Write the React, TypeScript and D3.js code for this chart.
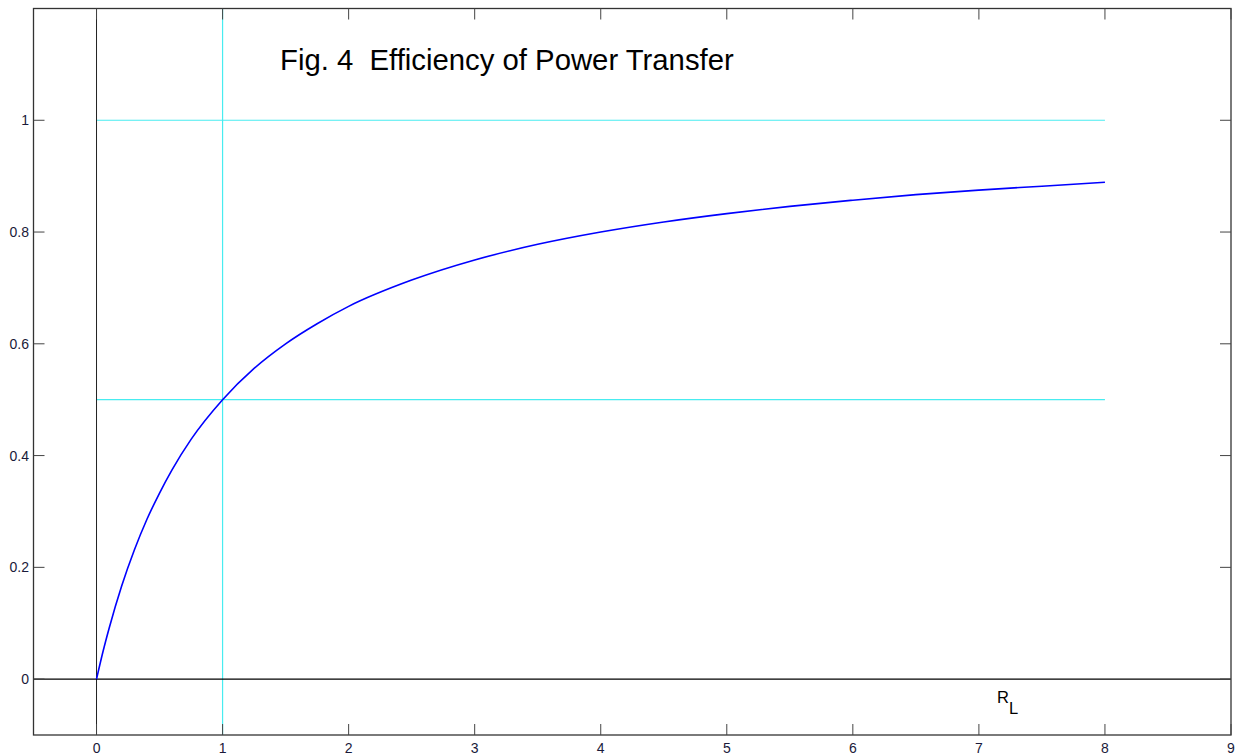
import React, { useEffect, useRef } from "react";
import * as d3 from "d3";

// values (R_L, efficiency)
const rl = [0, 0.05, 0.1, 0.2, 0.3, 0.4, 0.5, 0.6, 0.75, 1, 1.25, 1.5, 1.75, 2, 2.5, 3, 3.5, 4, 4.5, 5, 5.5, 6, 6.5, 7, 7.5, 8];
const eff = [0, 0.048, 0.091, 0.167, 0.231, 0.286, 0.333, 0.375, 0.429, 0.5, 0.556, 0.6, 0.636, 0.667, 0.714, 0.75, 0.778, 0.8, 0.818, 0.833, 0.846, 0.857, 0.867, 0.875, 0.882, 0.889];

const xTicks = [0, 1, 2, 3, 4, 5, 6, 7, 8, 9];
const yTicks = [0, 0.2, 0.4, 0.6, 0.8, 1];
const refLevels = [0.5, 1];
const refX = [1];

export default function App() {
  const ref = useRef<SVGSVGElement>(null);

  useEffect(() => {
    const W = 1239, H = 755;
    const font = "Liberation Sans, Arial, sans-serif";
    const x = d3.scaleLinear().domain([-0.5, 9]).range([33.5, 1231]);
    const y = d3.scaleLinear().domain([-0.1, 1.2]).range([735, 8.5]);

    const svg = d3.select(ref.current).html("");
    svg.append("rect").attr("width", W).attr("height", H).attr("fill", "#fff");

    // reference lines (cyan)
    svg.selectAll(".hl").data(refLevels).enter().append("line")
      .attr("x1", x(0)).attr("x2", x(8))
      .attr("y1", (d) => y(d)).attr("y2", (d) => y(d))
      .attr("stroke", "#48ecf0").attr("stroke-width", 1.2);
    svg.selectAll(".vl").data(refX).enter().append("line")
      .attr("x1", (d) => x(d)).attr("x2", (d) => x(d))
      .attr("y1", y(1.2)).attr("y2", y(-0.1))
      .attr("stroke", "#48ecf0").attr("stroke-width", 1.2);

    // zero axes
    svg.append("line").attr("x1", x(0)).attr("x2", x(0)).attr("y1", y(1.2)).attr("y2", y(-0.1))
      .attr("stroke", "#222").attr("stroke-width", 1);
    svg.append("line").attr("x1", x(-0.5)).attr("x2", x(9)).attr("y1", y(0)).attr("y2", y(0))
      .attr("stroke", "#000").attr("stroke-width", 1.2);

    // curve
    const line = d3.line<number>()
      .x((d, i) => x(rl[i]))
      .y((d) => y(d))
      .curve(d3.curveMonotoneX);
    svg.append("path").datum(eff).attr("d", line).attr("fill", "none")
      .attr("stroke", "#0000ff").attr("stroke-width", 1.6);

    // frame
    svg.append("rect").attr("x", x(-0.5)).attr("y", y(1.2))
      .attr("width", x(9) - x(-0.5)).attr("height", y(-0.1) - y(1.2))
      .attr("fill", "none").attr("stroke", "#333").attr("stroke-width", 1.3);

    // inward ticks
    const tl = 11;
    const g = svg.append("g").attr("stroke", "#444").attr("stroke-width", 1);
    xTicks.forEach((t) => {
      g.append("line").attr("x1", x(t)).attr("x2", x(t)).attr("y1", y(-0.1)).attr("y2", y(-0.1) - tl);
      g.append("line").attr("x1", x(t)).attr("x2", x(t)).attr("y1", y(1.2)).attr("y2", y(1.2) + tl);
    });
    yTicks.forEach((t) => {
      g.append("line").attr("y1", y(t)).attr("y2", y(t)).attr("x1", x(-0.5)).attr("x2", x(-0.5) + tl);
      g.append("line").attr("y1", y(t)).attr("y2", y(t)).attr("x1", x(9)).attr("x2", x(9) - tl);
    });

    // tick labels
    svg.selectAll(".xt").data(xTicks).enter().append("text")
      .attr("x", (d) => x(d)).attr("y", 753)
      .attr("text-anchor", "middle")
      .attr("font-family", font).attr("font-size", 14)
      .attr("fill", "#1a1a3a")
      .text((d) => d3.format("")(d));
    svg.selectAll(".yt").data(yTicks).enter().append("text")
      .attr("x", 29).attr("y", (d) => y(d) + 5)
      .attr("text-anchor", "end")
      .attr("font-family", font).attr("font-size", 14)
      .attr("fill", "#1a1a3a")
      .text((d) => d3.format("")(d));

    // title
    svg.append("text").attr("x", 280).attr("y", 70)
      .attr("font-family", font).attr("font-size", 29.3)
      .attr("fill", "#000")
      .attr("xml:space", "preserve").style("white-space", "pre")
      .text("Fig. 4  Efficiency of Power Transfer");

    // R_L label
    const lbl = svg.append("text").attr("x", 997).attr("y", 703)
      .attr("font-family", font).attr("font-size", 16.5)
      .attr("fill", "#000");
    lbl.append("tspan").text("R");
    lbl.append("tspan").attr("dy", 11).text("L");
  }, []);

  return (
    <svg ref={ref} width={1239} height={755}
      style={{ position: "absolute", left: 0, top: 0, display: "block" }} />
  );
}
